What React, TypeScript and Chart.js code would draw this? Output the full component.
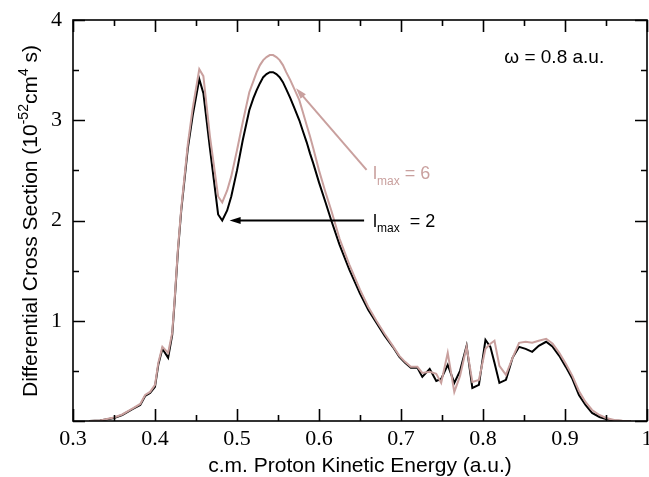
import React, { useEffect, useRef } from "react";
import { Chart, registerables } from "chart.js";

Chart.register(...registerables);

// Proton kinetic energy (a.u.)
const energy = [
  0.32, 0.333, 0.35, 0.36, 0.373, 0.382, 0.388, 0.394, 0.4, 0.404, 0.409, 0.416,
  0.421, 0.424, 0.428, 0.432, 0.44, 0.446, 0.454, 0.459, 0.467, 0.477, 0.482,
  0.488, 0.493, 0.5, 0.507, 0.515, 0.52, 0.524, 0.528, 0.532, 0.536, 0.54,
  0.544, 0.548, 0.552, 0.556, 0.56, 0.565, 0.57, 0.576, 0.58, 0.585, 0.589,
  0.593, 0.6, 0.608, 0.615, 0.625, 0.637, 0.65, 0.66, 0.67, 0.68,
  0.69, 0.698, 0.705, 0.712, 0.72, 0.726, 0.735, 0.743, 0.749, 0.757, 0.765,
  0.772, 0.78, 0.787, 0.795, 0.803, 0.809, 0.814, 0.82, 0.828, 0.836, 0.844,
  0.852, 0.86, 0.868, 0.877, 0.885, 0.893, 0.901, 0.909, 0.917, 0.925, 0.933,
  0.942, 0.95, 0.96, 0.97, 0.98,
];

// l_max = 2 (black)
const lmax2 = [
  0, 0.005, 0.03, 0.06, 0.12, 0.16, 0.25, 0.28, 0.34, 0.56, 0.72, 0.63,
  0.86, 1.2, 1.7, 2.1, 2.72, 3.05, 3.41, 3.27, 2.72, 2.06, 2.0,
  2.1, 2.24, 2.5, 2.8, 3.1, 3.22, 3.3, 3.37, 3.43, 3.46, 3.48,
  3.48, 3.46, 3.43, 3.38, 3.31, 3.22, 3.12, 3.0, 2.9, 2.78, 2.67,
  2.57, 2.38, 2.18, 2.0, 1.76, 1.51, 1.27, 1.11, 0.98, 0.85,
  0.74, 0.64, 0.58, 0.53, 0.53, 0.44, 0.52, 0.4, 0.42, 0.56, 0.38,
  0.5, 0.75, 0.33, 0.36, 0.81, 0.74, 0.58, 0.38, 0.41, 0.63, 0.74,
  0.72, 0.69, 0.75, 0.79, 0.74, 0.65, 0.54, 0.42, 0.26, 0.16, 0.08,
  0.04, 0.02, 0.005, 0, 0,
];

// l_max = 6 (pink)
const lmax6 = [
  0, 0.006, 0.035, 0.065, 0.125, 0.17, 0.26, 0.29, 0.36, 0.58, 0.74, 0.68,
  0.88, 1.22, 1.72, 2.12, 2.76, 3.12, 3.51, 3.44, 2.84, 2.24, 2.18,
  2.3, 2.44, 2.7, 2.98, 3.28, 3.39, 3.48, 3.55, 3.6, 3.63, 3.65,
  3.65, 3.63, 3.6, 3.55, 3.48, 3.4, 3.31, 3.2, 3.09, 2.95, 2.84,
  2.72, 2.5, 2.28, 2.1, 1.82, 1.56, 1.31, 1.14, 1.0, 0.87,
  0.75, 0.65, 0.59, 0.54, 0.54, 0.48, 0.49, 0.47, 0.38, 0.68, 0.29,
  0.45, 0.74, 0.39, 0.41, 0.72, 0.77, 0.8, 0.55, 0.46, 0.63, 0.78,
  0.79, 0.78, 0.8, 0.82, 0.77, 0.68, 0.57, 0.45, 0.3, 0.19, 0.11,
  0.06, 0.03, 0.01, 0.003, 0,
];

const xTickLabels = ["0.3", "0.4", "0.5", "0.6", "0.7", "0.8", "0.9", "1"];
const yTickLabels = ["1", "2", "3", "4"];

const PINK = "#c9a09e";
const SANS = "'Liberation Sans', Arial, Helvetica, sans-serif";
const SERIF = "'Liberation Serif', 'Times New Roman', serif";

type Seg = { t: string; sup?: boolean; sub?: boolean };

function drawSegs(ctx: CanvasRenderingContext2D, segs: Seg[], x: number, y: number, size: number, align: "left" | "center") {
  const small = Math.round(size * 0.68);
  const widths = segs.map((s) => {
    ctx.font = `${s.sup || s.sub ? small : size}px ${SANS}`;
    return ctx.measureText(s.t).width;
  });
  const total = widths.reduce((a, b) => a + b, 0);
  let cx = align === "center" ? x - total / 2 : x;
  segs.forEach((s, i) => {
    ctx.font = `${s.sup || s.sub ? small : size}px ${SANS}`;
    const dy = s.sup ? -size * 0.42 : s.sub ? size * 0.32 : 0;
    ctx.fillText(s.t, cx, y + dy);
    cx += widths[i];
  });
}

function arrow(ctx: CanvasRenderingContext2D, x0: number, y0: number, x1: number, y1: number, color: string) {
  const ang = Math.atan2(y1 - y0, x1 - x0);
  const hl = 11, hw = 3.5;
  ctx.strokeStyle = color;
  ctx.fillStyle = color;
  ctx.lineWidth = 2;
  ctx.beginPath();
  ctx.moveTo(x0, y0);
  ctx.lineTo(x1 - Math.cos(ang) * hl * 0.8, y1 - Math.sin(ang) * hl * 0.8);
  ctx.stroke();
  ctx.beginPath();
  ctx.moveTo(x1, y1);
  ctx.lineTo(x1 - Math.cos(ang) * hl - Math.sin(ang) * hw, y1 - Math.sin(ang) * hl + Math.cos(ang) * hw);
  ctx.lineTo(x1 - Math.cos(ang) * hl + Math.sin(ang) * hw, y1 - Math.sin(ang) * hl - Math.cos(ang) * hw);
  ctx.closePath();
  ctx.fill();
}

const framePlugin = {
  id: "frameDecor",
  afterDraw(chart: any) {
    const { ctx, chartArea: ca, scales } = chart;
    const xs = scales.x, ys = scales.y;
    ctx.save();
    // frame
    ctx.strokeStyle = "#000";
    ctx.lineWidth = 1.6;
    ctx.strokeRect(ca.left, ca.top, ca.right - ca.left, ca.bottom - ca.top);
    // x ticks (inward, bottom and top)
    xs.ticks.forEach((t: any) => {
      const px = Math.round(xs.getPixelForValue(t.value)) + 0.5;
      const major = t.label !== "" && t.label !== undefined;
      const len = major ? 12 : 6;
      ctx.beginPath();
      ctx.moveTo(px, ca.bottom);
      ctx.lineTo(px, ca.bottom - len);
      ctx.moveTo(px, ca.top);
      ctx.lineTo(px, ca.top + len);
      ctx.stroke();
    });
    ys.ticks.forEach((t: any) => {
      const py = Math.round(ys.getPixelForValue(t.value)) + 0.5;
      const major = Math.abs(t.value - Math.round(t.value)) < 1e-6;
      const len = major ? 12 : 6;
      ctx.beginPath();
      ctx.moveTo(ca.left, py);
      ctx.lineTo(ca.left + len, py);
      ctx.moveTo(ca.right, py);
      ctx.lineTo(ca.right - len, py);
      ctx.stroke();
    });

    // axis titles
    ctx.fillStyle = "#000";
    ctx.textBaseline = "alphabetic";
    ctx.textAlign = "left";
    ctx.font = `21px ${SANS}`;
    const xt = "c.m. Proton Kinetic Energy (a.u.)";
    const xw = ctx.measureText(xt).width;
    ctx.fillText(xt, (ca.left + ca.right) / 2 - xw / 2, 472);

    ctx.save();
    ctx.translate(37, 221);
    ctx.rotate(-Math.PI / 2);
    drawSegs(ctx, [
      { t: "Differential Cross Section (10" },
      { t: "-52", sup: true },
      { t: "cm" },
      { t: "4", sup: true },
      { t: " s)" },
    ], 0, 0, 21, "center");
    ctx.restore();

    // annotations
    ctx.fillStyle = "#000";
    ctx.font = `19px ${SANS}`;
    ctx.fillText("\u03c9 = 0.8 a.u.", xs.getPixelForValue(0.826), ys.getPixelForValue(3.57));

    ctx.fillStyle = PINK;
    drawSegs(ctx, [{ t: "l" }, { t: "max", sub: true }, { t: " = 6" }],
      xs.getPixelForValue(0.666), ys.getPixelForValue(2.41), 18, "left");
    ctx.fillStyle = "#000";
    drawSegs(ctx, [{ t: "l" }, { t: "max", sub: true }, { t: "  = 2" }],
      xs.getPixelForValue(0.666), ys.getPixelForValue(1.94), 18, "left");

    arrow(ctx, xs.getPixelForValue(0.658), ys.getPixelForValue(2.505),
      xs.getPixelForValue(0.572), ys.getPixelForValue(3.32), PINK);
    arrow(ctx, xs.getPixelForValue(0.655), ys.getPixelForValue(2.0),
      xs.getPixelForValue(0.491), ys.getPixelForValue(2.0), "#000");
    ctx.restore();
  },
};

export default function App() {
  const ref = useRef<HTMLCanvasElement | null>(null);
  useEffect(() => {
    if (!ref.current) return;
    const chart = new Chart(ref.current, {
      type: "line",
      data: {
        datasets: [
          {
            label: "l_max = 6",
            data: energy.map((x, i) => ({ x, y: lmax6[i] })),
            borderColor: PINK,
            borderWidth: 2,
            pointRadius: 0,
            tension: 0,
            fill: false,
          },
          {
            label: "l_max = 2",
            data: energy.map((x, i) => ({ x, y: lmax2[i] })),
            borderColor: "#000",
            borderWidth: 2,
            pointRadius: 0,
            tension: 0,
            fill: false,
          },
        ],
      },
      options: {
        animation: false,
        responsive: false,
        maintainAspectRatio: false,
        layout: { padding: { top: 20, right: 2, left: 0, bottom: 0 } },
        plugins: { legend: { display: false }, tooltip: { enabled: false }, title: { display: false } },
        scales: {
          x: {
            type: "linear",
            min: 0.3,
            max: 1,
            grid: { display: false, drawTicks: false },
            border: { display: false },
            ticks: {
              stepSize: 0.05,
              autoSkip: false,
              maxRotation: 0,
              padding: 5,
              color: "#000",
              font: { family: SERIF, size: 22 },
              callback: (v: any) => {
                const n = Math.round(Number(v) * 100);
                if (n % 10 !== 0) return "";
                return xTickLabels[Math.round((Number(v) - 0.3) * 10)] ?? "";
              },
            },
            afterFit: (s: any) => {
              s.height = 56;
              s.paddingLeft = 0;
              s.paddingRight = 0;
            },
          },
          y: {
            type: "linear",
            min: 0,
            max: 4,
            grid: { display: false, drawTicks: false },
            border: { display: false },
            ticks: {
              stepSize: 0.5,
              autoSkip: false,
              padding: 11,
              color: "#000",
              font: { family: SERIF, size: 22 },
              callback: (v: any) => {
                const n = Number(v);
                if (Math.abs(n - Math.round(n)) > 1e-6 || n === 0) return "";
                return yTickLabels[Math.round(n) - 1] ?? "";
              },
            },
            afterFit: (s: any) => {
              s.width = 73;
              s.paddingTop = 0;
              s.paddingBottom = 0;
            },
          },
        },
      },
      plugins: [framePlugin],
    });
    return () => chart.destroy();
  }, []);

  return (
    <div style={{ position: "fixed", left: 0, top: 0, width: 649, height: 477, background: "#fff" }}>
      <canvas ref={ref} width={649} height={477} style={{ display: "block", width: 649, height: 477 }} />
    </div>
  );
}
